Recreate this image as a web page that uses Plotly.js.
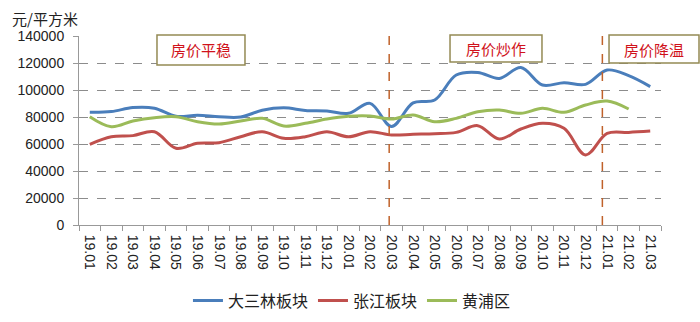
<!DOCTYPE html>
<html>
<head>
<meta charset="utf-8">
<script src="https://cdn.plot.ly/plotly-3.0.1.min.js"></script>
<style>html,body{margin:0;padding:0;background:#fff;}#chart{width:700px;height:322px;}</style>
</head>
<body>
<div id="chart"></div>
<script>
const months = ["19.01","19.02","19.03","19.04","19.05","19.06","19.07","19.08","19.09","19.10","19.11","19.12",
  "20.01","20.02","20.03","20.04","20.05","20.06","20.07","20.08","20.09","20.10","20.11","20.12",
  "21.01","21.02","21.03"];
const dasanlin = [83500,84000,87000,86500,80500,81300,80200,80000,85000,86800,84900,84400,
  82700,90100,73000,90500,92600,111100,113000,108600,116600,103700,105400,104200,
  114800,110600,102500];
const zhangjiang = [59800,65400,66200,69100,56800,60500,61000,65400,69100,64200,65400,69100,
  65400,69100,66700,67200,67600,68600,73600,63700,71100,75300,71600,51900,
  67900,68600,69600];
const huangpu = [80200,72800,77000,79500,80200,76500,74800,77000,79000,73300,75300,78500,
  80500,80700,78500,81500,76500,79000,83900,85200,82700,86400,83500,88900,
  91800,85900,null];
const seriesNames = ["大三林板块","张江板块","黄浦区"];
const seriesColors = ["#4a7ebb","#c0504d","#9bbb59"];
const phaseLabels = ["房价平稳","房价炒作","房价降温"];
const phaseBreaks = [13.89, 23.78];

const cjk = '"Noto Sans CJK SC", "Noto Sans", sans-serif';
const num = '"Liberation Sans", Arial, sans-serif';

const data = [dasanlin, zhangjiang, huangpu].map((vals, k) => ({
  type: 'scatter', mode: 'lines', name: seriesNames[k], x: months, y: vals,
  line: {color: seriesColors[k], width: 3, shape: 'spline', smoothing: 1},
  connectgaps: false
}));

const shapes = phaseBreaks.map(xv => ({
  type: 'line', xref: 'x', yref: 'y', x0: xv, x1: xv, y0: 0, y1: 140000,
  line: {color: '#c0622a', width: 1.5, dash: 'dash'}
}));

// phase label boxes (paper coordinates)
const boxes = [
  {x0: 0.134, x1: 0.2852, y0: 0.8466, y1: 1.0053, tx: 0.2096, ty: 0.926},
  {x0: 0.6375, x1: 0.7955, y0: 0.8624, y1: 1.0053, tx: 0.7165, ty: 0.934},
  {x0: 0.9107, x1: 1.0653, y0: 0.8571, y1: 1.0053, tx: 0.988, ty: 0.931}
];
boxes.forEach(b => shapes.push({
  type: 'rect', xref: 'paper', yref: 'paper', x0: b.x0, x1: b.x1, y0: b.y0, y1: b.y1,
  fillcolor: '#ffffff', line: {color: '#948a54', width: 1.5}, layer: 'above'
}));
const annotations = phaseLabels.map((t, i) => ({
  xref: 'paper', yref: 'paper', x: boxes[i].tx, y: boxes[i].ty,
  xanchor: 'center', yanchor: 'middle', showarrow: false, text: t,
  font: {family: cjk, size: 15, color: '#d0121b'}
}));
annotations.push({
  xref: 'paper', yref: 'paper', x: -0.118, y: 1.095, xanchor: 'left', yanchor: 'middle',
  showarrow: false, text: '元/平方米', font: {family: cjk, size: 15, color: '#222'}
});

const layout = {
  width: 700, height: 322,
  margin: {l: 79, r: 39, t: 36, b: 97, autoexpand: false},
  paper_bgcolor: '#fff', plot_bgcolor: '#fff',
  showlegend: true,
  legend: {orientation: 'h', x: 0.469, xanchor: 'center', y: -0.40, yanchor: 'middle',
    font: {family: cjk, size: 16, color: '#222'}, itemwidth: 30, tracegroupgap: 0},
  xaxis: {
    type: 'category', range: [-0.5, 26.5], showgrid: false, zeroline: false, automargin: false,
    showline: true, linecolor: '#999', linewidth: 1,
    ticks: 'outside', tickson: 'boundaries', ticklen: 5, tickcolor: '#999',
    tickangle: 90, ticklabelstandoff: 6, tickfont: {family: num, size: 14, color: '#222'}
  },
  yaxis: {
    range: [0, 140000], dtick: 20000, tickformat: 'd', automargin: false,
    showgrid: true, gridcolor: '#8c8c8c', griddash: 'dash', gridwidth: 1,
    zeroline: false, showline: true, linecolor: '#999', linewidth: 1,
    ticks: 'outside', ticklen: 5, tickcolor: '#999', ticklabelstandoff: 6,
    tickfont: {family: num, size: 14, color: '#222'}
  },
  shapes: shapes,
  annotations: annotations
};

Plotly.newPlot('chart', data, layout, {displayModeBar: false, staticPlot: true});
</script>
</body>
</html>
